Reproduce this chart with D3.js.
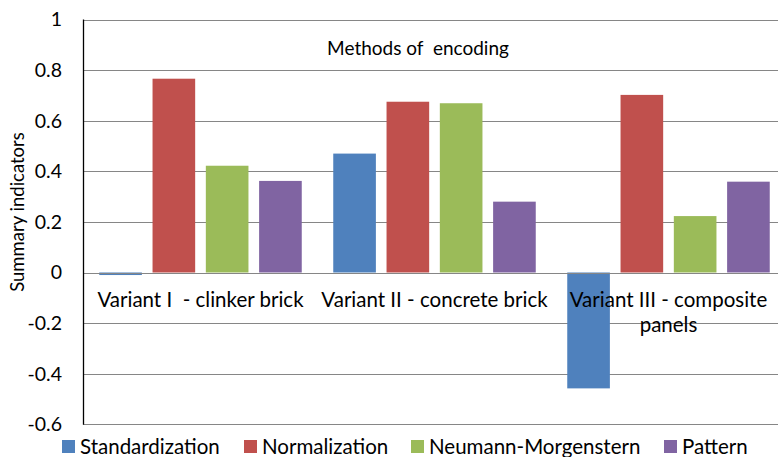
<!DOCTYPE html>
<html>
<head>
<meta charset="utf-8">
<script src="https://cdn.jsdelivr.net/npm/d3@7"></script>
<style>
  html, body { margin: 0; padding: 0; background: #fff; }
  svg { display: block; }
  text { font-family: Lato, "Open Sans", sans-serif; fill: #000; }
</style>
</head>
<body>
<svg id="chart" width="778" height="457"></svg>
<script>
// Variants of wall construction (category axis)
const categories = [
  ["Variant I  - clinker brick"],
  ["Variant II - concrete brick"],
  ["Variant III - composite", "panels"]
];
const categoryKeys = ["v1", "v2", "v3"];

// Encoding methods (series)
const seriesNames = ["Standardization", "Normalization", "Neumann-Morgenstern", "Pattern"];
const seriesColors = ["#4F81BD", "#C0504D", "#9BBB59", "#8064A2"];

// Summary indicator values per series, one entry per variant
const standardization = [-0.01, 0.47, -0.458];
const normalization = [0.766, 0.675, 0.702];
const neumannMorgenstern = [0.422, 0.669, 0.223];
const pattern = [0.362, 0.28, 0.359];

const yTicks = [-0.6, -0.4, -0.2, 0, 0.2, 0.4, 0.6, 0.8, 1];

const seriesValues = [standardization, normalization, neumannMorgenstern, pattern];

const svg = d3.select("#chart");

const plot = { left: 83.5, right: 785.5, top: 19.5, bottom: 424.3 };

const y = d3.scaleLinear().domain([-0.6, 1]).range([plot.bottom, plot.top]);
const x0 = d3.scaleBand().domain(categoryKeys).range([plot.left, plot.right]).padding(0);
const groupPad = 15.75;
const x1 = d3.scaleBand().domain(seriesNames)
  .range([groupPad, x0.bandwidth() - groupPad])
  .paddingInner(0.2).paddingOuter(0);

// Horizontal gridlines
svg.append("g")
  .selectAll("line")
  .data(yTicks)
  .join("line")
  .attr("x1", plot.left)
  .attr("x2", 778)
  .attr("y1", d => Math.round(y(d)) + 0.5)
  .attr("y2", d => Math.round(y(d)) + 0.5)
  .attr("stroke", "#868686")
  .attr("stroke-width", 1);

// Bars
const groups = svg.append("g")
  .selectAll("g")
  .data(categoryKeys)
  .join("g")
  .attr("transform", d => `translate(${x0(d)},0)`);

groups.selectAll("rect")
  .data((d, i) => seriesNames.map((s, j) => ({ s, j, v: seriesValues[j][i] })))
  .join("rect")
  .attr("x", d => x1(d.s))
  .attr("width", x1.bandwidth())
  .attr("y", d => y(Math.max(0, d.v)))
  .attr("height", d => Math.abs(y(d.v) - y(0)))
  .attr("fill", d => seriesColors[d.j]);

// Zero line drawn above the bars
svg.append("line")
  .attr("x1", plot.left).attr("x2", 778)
  .attr("y1", Math.round(y(0)) + 0.5).attr("y2", Math.round(y(0)) + 0.5)
  .attr("stroke", "#868686").attr("stroke-width", 1);

// Vertical axis line and tick labels
svg.append("line")
  .attr("x1", plot.left).attr("x2", plot.left)
  .attr("y1", y(1)).attr("y2", y(-0.6) + 0.5)
  .attr("stroke", "#000").attr("stroke-width", 1.3);

svg.append("g")
  .selectAll("text")
  .data(yTicks)
  .join("text")
  .attr("x", 62)
  .attr("y", d => y(d))
  .attr("dy", "0.35em")
  .attr("text-anchor", "end")
  .style("font-size", "19.5px")
  .text(d => d3.format("")(d).replace("−", "-"));

// Axis title
svg.append("text")
  .attr("transform", "translate(24,212) rotate(-90)")
  .attr("text-anchor", "middle")
  .style("font-size", "18.5px")
  .text("Summary indicators");

// Chart title inside the plot
svg.append("text")
  .attr("x", 418)
  .attr("y", 55)
  .attr("text-anchor", "middle")
  .style("font-size", "19px")
  .style("white-space", "pre")
  .text("Methods of  encoding");

// Category labels just under the zero line
svg.append("g")
  .selectAll("text")
  .data(categoryKeys)
  .join("text")
  .attr("x", d => x0(d) + x0.bandwidth() / 2)
  .attr("y", 307)
  .attr("text-anchor", "middle")
  .style("font-size", "20.5px")
  .style("white-space", "pre")
  .each(function(d, i) {
    d3.select(this).selectAll("tspan")
      .data(categories[i])
      .join("tspan")
      .attr("x", x0(d) + x0.bandwidth() / 2)
      .attr("dy", (t, k) => k === 0 ? 0 : 25)
      .text(t => t);
  });

// Legend
const legendX = [62, 244, 411, 664];
const legend = svg.append("g")
  .selectAll("g")
  .data(seriesNames)
  .join("g")
  .attr("transform", (d, i) => `translate(${legendX[i]},440)`);
legend.append("rect")
  .attr("width", 13).attr("height", 13)
  .attr("fill", (d, i) => seriesColors[i]);
legend.append("text")
  .attr("x", 18).attr("y", 13.5)
  .style("font-size", "20.5px")
  .text(d => d);
</script>
</body>
</html>
